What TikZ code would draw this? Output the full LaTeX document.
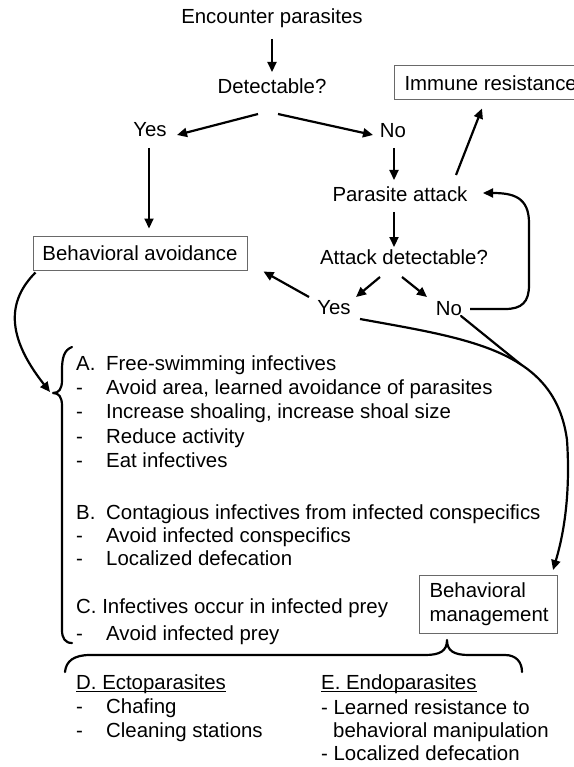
\documentclass[tikz,border=0pt]{standalone}
\usepackage{fontspec}
\setmainfont{Liberation Sans}
\usetikzlibrary{arrows.meta,calc}
\definecolor{boxgray}{RGB}{105,105,105}
\newcommand\myitem[1]{\makebox[30pt][l]{#1}}
\begin{document}
\begin{tikzpicture}[x=1pt,y=-1pt,
  txt/.style={inner sep=0pt, font=\fontsize{20.4}{24.3}\selectfont, anchor=base},
  ltxt/.style={txt, anchor=base west},
  box/.style={draw=boxgray, line width=1pt, font=\fontsize{20.4}{24.3}\selectfont, inner sep=0pt},
  arr/.style={line width=2.2pt, line join=round, -{Triangle[length=10pt,width=9pt]}},
  ln/.style={line width=2.2pt, line join=round, line cap=round}]
\useasboundingbox (0,0) rectangle (573,767);

% top flow
\node[txt] (enc) at (272,24) {Encounter parasites};
\node[txt] (det) at (272,94) {Detectable?};
\node[txt] (yes1) at (150,137) {Yes};
\node[txt] (no1) at (393,138) {No};
\node[box, minimum width=214pt, minimum height=34pt] (ba) at (140,253) {Behavioral avoidance};
\node[box, anchor=west, minimum height=34pt, inner xsep=10pt] (ir) at (394,83) {Immune resistance};
\node[txt] (pa) at (400,202) {Parasite attack};
\node[txt] (ad) at (404,264) {Attack detectable?};
\node[txt] (yes2) at (334,314) {Yes};
\node[txt] (no2) at (449,315) {No};
\node[box, anchor=north west, minimum width=138pt, minimum height=58pt, inner xsep=10pt, align=left, text width=118pt] (bm) at (419,575) {Behavioral\\management};

% list A-C
\node[ltxt] (a0) at (76,370) {\myitem{A.}Free-swimming infectives};
\node[ltxt] (a1) at (76,394) {\myitem{-}Avoid area, learned avoidance of parasites};
\node[ltxt] (a2) at (76,418) {\myitem{-}Increase shoaling, increase shoal size};
\node[ltxt] (a3) at (76,443) {\myitem{-}Reduce activity};
\node[ltxt] (a4) at (76,467) {\myitem{-}Eat infectives};
\node[ltxt] (b0) at (76,519) {\myitem{B.}Contagious infectives from infected conspecifics};
\node[ltxt] (b1) at (76,542) {\myitem{-}Avoid infected conspecifics};
\node[ltxt] (b2) at (76,565) {\myitem{-}Localized defecation};
\node[ltxt] (c0) at (76,613) {C. Infectives occur in infected prey};
\node[ltxt] (c1) at (76,640) {\myitem{-}Avoid infected prey};

% D and E
\node[ltxt] (dh) at (76,689) {D. Ectoparasites};
\node[ltxt] (d1) at (76,713) {\myitem{-}Chafing};
\node[ltxt] (d2) at (76,737) {\myitem{-}Cleaning stations};
\node[ltxt] (eh) at (321,689) {E. Endoparasites};
\node[ltxt] (e1) at (321,714) {- Learned resistance to};
\node[ltxt] (e2) at (333,737) {behavioral manipulation};
\node[ltxt] (e3) at (321,760) {- Localized defecation};
\draw[line width=1pt] ($(dh.base west)+(0,2.5)$) -- ($(dh.base east)+(0,2.5)$);
\draw[line width=1pt] ($(eh.base west)+(0,2.5)$) -- ($(eh.base east)+(0,2.5)$);

% straight arrows
\draw[arr] ($(enc.base)+(0,15)$) -- ($(det.base)+(0,-22)$);
\draw[arr] ($(det.base)+(-14,20)$) -- ($(yes1.base)+(27,-2)$);
\draw[arr] ($(det.base)+(6,20)$) -- ($(no1.base)+(-20,-3)$);
\draw[arr] ($(yes1.base)+(-1,11)$) -- ($(ba.north)+(9,-7)$);
\draw[arr] ($(no1.base)+(1,10)$) -- ($(pa.base)+(-6,-22)$);
\draw[arr] ($(pa.base)+(56,-27)$) -- ($(ir.south west)+(88,8)$);
\draw[arr] ($(pa.base)+(-6,10)$) -- ($(ad.base)+(-10,-17)$);
\draw[arr] ($(ad.base)+(-24,13)$) -- ($(yes2.base)+(22,-17)$);
\draw[arr] ($(ad.base)+(-2,13)$) -- ($(no2.base)+(-22,-18)$);
\draw[arr] ($(yes2.base)+(-25,-17)$) -- ($(ba.south east)+(16,1)$);

% loop No -> Parasite attack
\draw[arr] ($(no2.base)+(21,-6)$) -- ++(35,0) .. controls +(17,0) and +(0,17) .. ++(24,-24) -- ++(0,-62) .. controls +(0,-26) and +(30,0) .. ($(pa.base)+(83,-9)$);

% braces
\coordinate (bA) at (53,393);
\coordinate (bB) at (447,640);
\draw[ln] (72,347) .. controls (64,350) and (62,358) .. (62,370) -- (62,380) .. controls (62,389) and (59,393) .. (bA) .. controls (59,393) and (62,397) .. (62,406) -- (62,630) .. controls (62,638) and (65,643) .. (72,643);
\draw[ln] (65,672) .. controls (66,661) and (74,655) .. (90,655) -- (425,655) .. controls (440,655) and (447,651) .. (bB) .. controls (447,651) and (454,655) .. (469,655) -- (505,655) .. controls (516,655) and (522,662) .. (522,672);

% Behavioral avoidance -> brace A
\draw[arr] ($(ba.south west)+(3,2)$) .. controls (8,300) and (5,335) .. ($(bA)+(-3,-1)$);

% Yes / No -> Behavioral management
\draw[arr] ($(yes2.base)+(26,5)$) .. controls (470,339) and (555,350) .. (567,440) coordinate[pos=0.6] (merge) .. controls (571,500) and (562,540) .. ($(bm.north east)+(-5,-5)$);
\draw[ln] ($(no2.base)+(12,1)$) -- (merge);
\end{tikzpicture}
\end{document}
